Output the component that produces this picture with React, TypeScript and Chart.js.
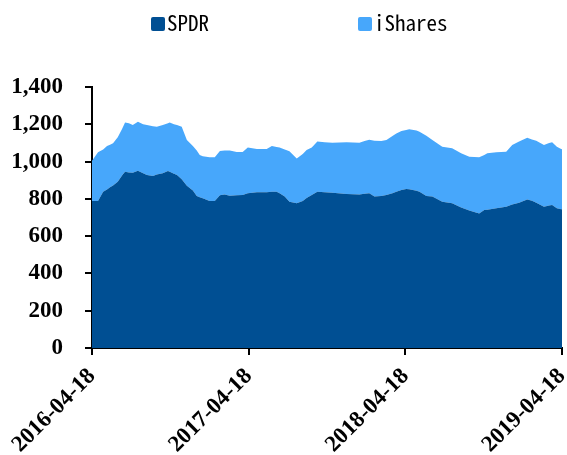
import React, { useEffect, useRef } from "react";
import { Chart, registerables } from "chart.js";

Chart.register(...registerables);

// Days since 2016-04-18
const days = [
  0, 14, 26, 35, 42, 49, 60, 70, 77, 86, 95, 107, 119, 128, 142, 151, 165, 177, 181, 191,
  198, 209, 221, 235, 244, 251, 258, 274, 286, 298, 309, 321, 337, 351, 363, 384, 407, 419, 430, 437,
  449, 460, 477, 491, 500, 512, 525, 542, 560, 593, 623, 635, 646, 658, 674, 686, 700, 709, 721, 732,
  739, 756, 763, 779, 793, 816, 839, 860, 879, 902, 914, 921, 942, 965, 979, 995, 1014, 1025, 1035, 1053,
  1065, 1072, 1083, 1093, 1102,
];

const spdr = [
  788, 788, 838, 850, 862, 872, 892, 925, 946, 942, 940, 951, 938, 928, 923, 930, 937, 949, 945, 935,
  928, 905, 870, 845, 815, 808, 803, 788, 788, 820, 824, 817, 820, 821, 830, 835, 835, 838, 838, 830,
  812, 785, 776, 788, 805, 821, 838, 836, 833, 826, 824, 828, 830, 812, 815, 821, 830, 838, 848, 853,
  852, 844, 838, 815, 812, 785, 776, 753, 737, 722, 740, 742, 749, 758, 770, 779, 797, 790, 779, 758,
  765, 767, 749, 744, 744,
];

const ishares = [
  217, 262, 227, 233, 228, 226, 238, 250, 263, 263, 256, 263, 262, 268, 267, 257, 259, 256, 265, 265,
  268, 282, 246, 238, 245, 227, 225, 235, 235, 237, 236, 242, 231, 230, 246, 232, 232, 245, 240, 246,
  253, 270, 241, 252, 257, 255, 269, 267, 268, 277, 277, 282, 287, 300, 295, 295, 307, 312, 316, 317,
  321, 323, 322, 324, 304, 295, 295, 291, 289, 301, 295, 302, 301, 295, 319, 328, 331, 328, 333, 331,
  335, 336, 331, 324, 318,
];

const tickDays = [0, 365, 730, 1095];
const tickLabels = ["2016-04-18", "2017-04-18", "2018-04-18", "2019-04-18"];
const seriesNames = ["SPDR", "iShares"];
const seriesColors = ["#004F93", "#47A7FB"];

const axisFont = { family: "'Liberation Serif', 'Times New Roman', serif", size: 23, weight: "bold" as const };
const legendFont = "21px 'Noto Sans Mono CJK SC', 'DejaVu Sans Mono', monospace";
const legendLeft = [151, 358];

const legendPlugin = {
  id: "topLegend",
  afterDraw(chart: any) {
    const ctx = chart.ctx as CanvasRenderingContext2D;
    ctx.save();
    ctx.font = legendFont;
    ctx.textBaseline = "alphabetic";
    ctx.textAlign = "left";
    seriesNames.forEach((name, i) => {
      const x = legendLeft[i];
      ctx.fillStyle = seriesColors[i];
      ctx.beginPath();
      (ctx as any).roundRect(x, 17, 14, 14, 2);
      ctx.fill();
      ctx.fillStyle = "#000";
      ctx.fillText(name, x + 16, 31);
    });
    ctx.restore();
  },
};

export default function App() {
  const ref = useRef<HTMLCanvasElement>(null);

  useEffect(() => {
    document.body.style.margin = "0";
    const chart = new Chart(ref.current!, {
      type: "line",
      data: {
        datasets: [
          {
            label: seriesNames[0],
            data: days.map((d, i) => ({ x: d, y: spdr[i] })),
            backgroundColor: seriesColors[0],
            borderColor: seriesColors[0],
            borderWidth: 0,
            pointRadius: 0,
            fill: "origin",
            clip: false,
          },
          {
            label: seriesNames[1],
            data: days.map((d, i) => ({ x: d, y: ishares[i] })),
            backgroundColor: seriesColors[1],
            borderColor: seriesColors[1],
            borderWidth: 0,
            pointRadius: 0,
            fill: "-1",
            clip: false,
          },
        ],
      },
      options: {
        animation: false,
        responsive: false,
        layout: { padding: { left: 0, top: 87, right: 5, bottom: 0 } },
        plugins: { legend: { display: false }, tooltip: { enabled: false } },
        scales: {
          x: {
            type: "linear",
            min: 0,
            max: 1095,
            afterBuildTicks: (s: any) => {
              s.ticks = tickDays.map((v) => ({ value: v }));
            },
            afterFit: (s: any) => {
              s.paddingLeft = 0;
              s.paddingRight = 0;
              s.height = 107;
            },
            ticks: {
              autoSkip: false,
              minRotation: 45,
              maxRotation: 45,
              padding: 8,
              color: "#000",
              font: axisFont,
              callback: (v: any) => {
                const i = tickDays.indexOf(Number(v));
                return i >= 0 ? tickLabels[i] : "";
              },
            },
            grid: { drawOnChartArea: false, tickLength: 7, color: "#000", lineWidth: 2 },
            border: { color: "#000", width: 2 },
          },
          y: {
            stacked: true,
            min: 0,
            max: 1400,
            afterFit: (s: any) => {
              s.width = 92;
            },
            ticks: { stepSize: 200, padding: 22, color: "#000", font: axisFont },
            grid: { drawOnChartArea: false, tickLength: 7, color: "#000", lineWidth: 2 },
            border: { color: "#000", width: 2 },
          },
        },
      },
      plugins: [legendPlugin],
    });
    return () => chart.destroy();
  }, []);

  return (
    <div style={{ position: "fixed", left: 0, top: 0, width: 567, height: 455, background: "#fff" }}>
      <canvas ref={ref} width={567} height={455} style={{ display: "block" }} />
    </div>
  );
}
